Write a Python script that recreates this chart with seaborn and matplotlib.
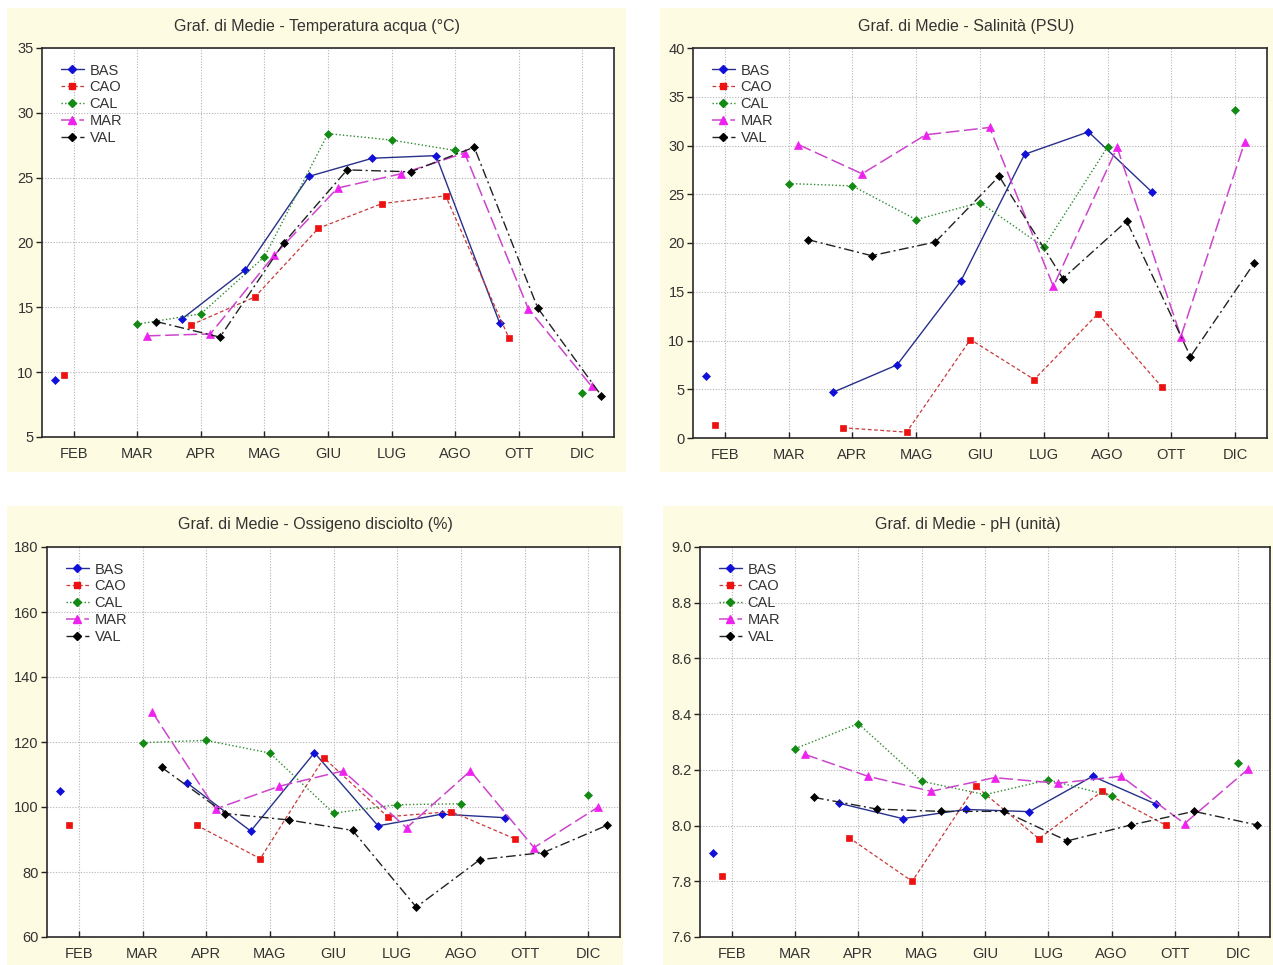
import numpy as np
import pandas as pd
import matplotlib
matplotlib.use("Agg")
import matplotlib.pyplot as plt
from matplotlib.lines import Line2D
from matplotlib.patches import Rectangle
import seaborn as sns

nan = np.nan

months = ["FEB", "MAR", "APR", "MAG", "GIU", "LUG", "AGO", "OTT", "DIC"]
stations = ["BAS", "CAO", "CAL", "MAR", "VAL"]

# Monthly means per station (NaN = no sample that month)
temp_bas = [9.4, nan, 14.1, 17.9, 25.1, 26.5, 26.7, 13.8, nan]
temp_cao = [9.8, nan, 13.65, 15.8, 21.1, 23.0, 23.6, 12.6, nan]
temp_cal = [nan, 13.7, 14.5, 18.9, 28.4, 27.9, 27.1, nan, 8.4]
temp_mar = [nan, 12.8, 12.95, 19.0, 24.2, 25.3, 26.9, 14.9, 8.9]
temp_val = [nan, 13.9, 12.7, 19.95, 25.6, 25.45, 27.35, 14.95, 8.2]

sal_bas = [6.4, nan, 4.7, 7.5, 16.1, 29.1, 31.4, 25.2, nan]
sal_cao = [1.35, nan, 1.05, 0.6, 10.1, 6.0, 12.75, 5.25, nan]
sal_cal = [nan, 26.1, 25.85, 22.4, 24.15, 19.6, 29.85, nan, 33.65]
sal_mar = [nan, 30.1, 27.1, 31.1, 31.85, 15.55, 29.8, 10.4, 30.35]
sal_val = [nan, 20.35, 18.7, 20.1, 26.85, 16.35, 22.25, 8.35, 17.95]

oxy_bas = [104.8, nan, 107.4, 92.6, 116.7, 94.2, 97.8, 96.7, nan]
oxy_cao = [94.4, nan, 94.4, 84.1, 115.1, 97.0, 98.6, 90.2, nan]
oxy_cal = [nan, 119.8, 120.5, 116.6, 98.1, 100.7, 101.0, nan, 103.6]
oxy_mar = [nan, 129.3, 99.4, 106.4, 111.1, 93.6, 111.1, 87.5, 99.9]
oxy_val = [nan, 112.2, 98.0, 96.0, 92.8, 69.2, 83.8, 86.0, 94.4]

ph_bas = [7.90, nan, 8.08, 8.025, 8.058, 8.05, 8.177, 8.077, nan]
ph_cao = [7.818, nan, 7.957, 7.80, 8.142, 7.953, 8.123, 8.002, nan]
ph_cal = [nan, 8.276, 8.366, 8.159, 8.111, 8.164, 8.106, nan, 8.223]
ph_mar = [nan, 8.256, 8.177, 8.123, 8.172, 8.152, 8.177, 8.007, 8.202]
ph_val = [nan, 8.101, 8.059, 8.051, 8.051, 7.945, 8.002, 8.051, 8.002]

titles = [
    "Graf. di Medie - Temperatura acqua (°C)",
    "Graf. di Medie - Salinità (PSU)",
    "Graf. di Medie - Ossigeno disciolto (%)",
    "Graf. di Medie - pH (unità)",
]
y_ticks = [
    [5, 10, 15, 20, 25, 30, 35],
    [0, 5, 10, 15, 20, 25, 30, 35, 40],
    [60, 80, 100, 120, 140, 160, 180],
    [7.6, 7.8, 8.0, 8.2, 8.4, 8.6, 8.8, 9.0],
]
y_labels = [
    [str(v) for v in y_ticks[0]],
    [str(v) for v in y_ticks[1]],
    [str(v) for v in y_ticks[2]],
    [f"{v:.1f}" for v in y_ticks[3]],
]

panels = [
    [temp_bas, temp_cao, temp_cal, temp_mar, temp_val],
    [sal_bas, sal_cao, sal_cal, sal_mar, sal_val],
    [oxy_bas, oxy_cao, oxy_cal, oxy_mar, oxy_val],
    [ph_bas, ph_cao, ph_cal, ph_mar, ph_val],
]

# Per-station drawing style
styles = {
    "BAS": dict(color="#27308a", mcol="#1010d8", ls="-", marker="D", ms=4.2, lw=1.0),
    "CAO": dict(color="#c83a3a", mcol="#ee1111", ls=(0, (3, 2)), marker="s", ms=5.0, lw=0.9),
    "CAL": dict(color="#2e8a2e", mcol="#138a13", ls=(0, (1, 1.6)), marker="D", ms=4.2, lw=1.0),
    "MAR": dict(color="#cc44cc", mcol="#ee22ee", ls=(0, (9, 3)), marker="^", ms=5.5, lw=1.1),
    "VAL": dict(color="#222222", mcol="#000000", ls=(0, (7, 2.5, 1.5, 2.5)), marker="D", ms=4.2, lw=1.0),
}
offsets = [-0.3, -0.15, 0.0, 0.15, 0.3]

sns.set_theme(style="white")
plt.rcParams["font.family"] = ["Liberation Sans", "DejaVu Sans"]

W, H = 1273, 965
fig = plt.figure(figsize=(W / 100, H / 100), dpi=100)
fig.patch.set_facecolor("white")


def fbox(l, t, r, b):
    return [l / W, 1 - b / H, (r - l) / W, (b - t) / H]


frames = [(7, 8, 626, 472), (660, 8, 1273, 472), (7, 506, 623, 965), (663, 506, 1273, 965)]
axes_px = [(42, 48, 614, 437), (693, 48, 1267, 438), (47, 547, 620, 937), (700, 547, 1270, 937)]
title_y = [26, 26, 524, 524]

text_col = "#333333"

for p in range(4):
    l, t, r, b = frames[p]
    fig.add_artist(Rectangle((l / W, 1 - b / H), (r - l) / W, (b - t) / H,
                             transform=fig.transFigure, facecolor="#fdfbe1",
                             edgecolor="none", zorder=-5))
    fig.text((l + r) / 2 / W, 1 - title_y[p] / H, titles[p], ha="center", va="center",
             fontsize=11.5, color=text_col)

    ax = fig.add_axes(fbox(*axes_px[p]))
    ax.set_facecolor("white")

    for i, st in enumerate(stations):
        vals = np.array(panels[p][i], dtype=float)
        xs = np.arange(len(months)) + offsets[i]
        seg = np.cumsum(np.isnan(vals))
        df = pd.DataFrame({"x": xs, "y": vals, "seg": seg}).dropna()
        s = styles[st]
        sns.lineplot(data=df, x="x", y="y", units="seg", estimator=None, sort=False,
                     ax=ax, color=s["color"], linestyle=s["ls"], linewidth=s["lw"],
                     marker=s["marker"], markersize=s["ms"], markerfacecolor=s["mcol"],
                     markeredgecolor=s["mcol"], markeredgewidth=0.5, zorder=3)

    ax.set_xlim(-0.5, len(months) - 0.5)
    ax.set_xticks(range(len(months)))
    ax.set_xticklabels(months)
    ax.set_ylim(y_ticks[p][0], y_ticks[p][-1])
    ax.set_yticks(y_ticks[p])
    ax.set_yticklabels(y_labels[p])
    ax.set_xlabel("")
    ax.set_ylabel("")
    ax.grid(True, linestyle=(0, (1, 1.5)), linewidth=0.8, color="#b4b4b4")
    ax.tick_params(axis="x", direction="in", length=4, width=1, colors="#222222",
                   labelcolor=text_col, labelsize=10.5, pad=7)
    ax.tick_params(axis="y", direction="out", length=4, width=1, colors="#222222",
                   labelcolor=text_col, labelsize=10.5, pad=2)
    ax.tick_params(bottom=True, left=True)
    for sp in ax.spines.values():
        sp.set_visible(True)
        sp.set_color("#2a2a2a")
        sp.set_linewidth(1.2)

    handles = []
    for st in stations:
        s = styles[st]
        handles.append(Line2D([], [], color=s["color"], linestyle=s["ls"], linewidth=s["lw"],
                              marker=s["marker"], markersize=s["ms"],
                              markerfacecolor=s["mcol"], markeredgecolor=s["mcol"]))
    ax.legend(handles, stations, loc="upper left", bbox_to_anchor=(0.012, 0.99),
              frameon=False, fontsize=10.5, handlelength=1.6, handletextpad=0.4,
              labelspacing=0.2, borderpad=0.3, labelcolor=text_col)

fig.savefig("out.png", dpi=100, facecolor="white")
